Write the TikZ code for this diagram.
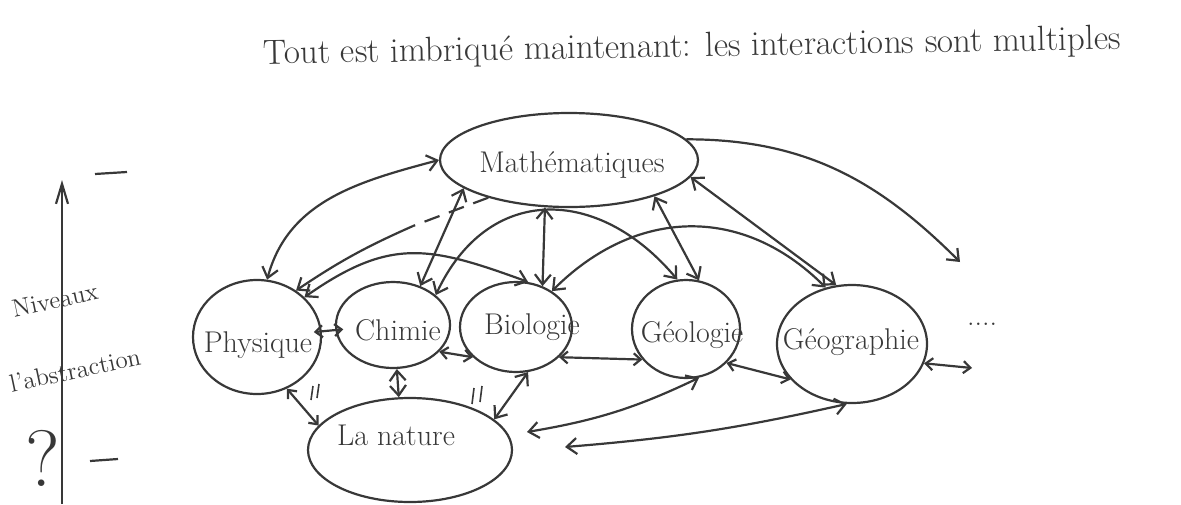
\documentclass[tikz,border=0pt]{standalone}
\usepackage{tikz}
\usetikzlibrary{shapes.geometric, arrows.meta}
\definecolor{pencil}{gray}{0.22}

\begin{document}
\begin{tikzpicture}[x=0.5pt, y=-0.5pt, line width=1.1pt, color=pencil,
    every node/.style={font=\fontsize{15}{18}\selectfont},
    field/.style={ellipse, draw, inner sep=0pt},
    link/.style={{Straight Barb[length=5pt,width=8pt]}-{Straight Barb[length=5pt,width=8pt]}},
    short/.style={{Straight Barb[length=3.5pt,width=6pt]}-{Straight Barb[length=3.5pt,width=6pt]}},
    oneway/.style={-{Straight Barb[length=5pt,width=8pt]}}]
    \useasboundingbox (0,0) rectangle (1181,504);

    \node[font=\fontsize{17.5}{20}\selectfont, rotate=1] (title) at (692,48) {Tout est imbriqué maintenant: les interactions sont multiples};

    \node[field, minimum width=129pt, minimum height=47pt] (M) at (569,160) {};
    \node[field, minimum width=64pt, minimum height=57pt] (P) at (257,337) {};
    \node[field, minimum width=57pt, minimum height=43pt] (Ch) at (393,325) {};
    \node[field, minimum width=56pt, minimum height=45pt] (Bi) at (516,327) {};
    \node[field, minimum width=54pt, minimum height=49pt] (Ge) at (686,329) {};
    \node[field, minimum width=75pt, minimum height=59pt] (Gg) at (852,344) {};
    \node[field, minimum width=102pt, minimum height=52pt] (N) at (410,450) {};

    \node (Mt) at (572,165) {Mathématiques};
    \node (Pt) at (258,345) {Physique};
    \node (Cht) at (398,330) {Chimie};
    \node (Bit) at (532,327) {Biologie};
    \node (Get) at (692,335) {Géologie};
    \node (Ggt) at (851,342) {Géographie};
    \node (etc) at (982,324) {....};
    \node (Nt) at (396,435) {La nature};

    % levels of abstraction
    \coordinate (a0) at (62,504);
    \coordinate (a1) at (62,180);
    \draw[-{Straight Barb[length=10pt,width=6pt]}] (a0) -- (a1);
    \draw (95,174) -- (127,172);
    \draw (90,461) -- (118,459);
    \node[rotate=12, font=\fontsize{12.5}{14}\selectfont] (niv) at (55,300) {Niveaux};
    \node[rotate=12, font=\fontsize{12.5}{14}\selectfont] (abs) at (75,370) {l'abstraction};
    \node[font=\fontsize{40}{40}\selectfont] (q) at (43,458) {?};

    % from Mathématiques
    \coordinate (d1) at (413,226);
    \coordinate (e1) at (960,262);
    \draw[link] (M.west) to[out=195, in=75] (P.80);
    \draw[dashed, dash pattern=on 8pt off 5pt] (M.205) -- (d1);
    \draw[oneway] (d1) to[bend right=5] (P.50);
    \draw[link] (M.195) -- (Ch.55);
    \draw[link] (M.243) -- (Bi.57);
    \draw[link] (M.337) -- (Ge.75);
    \draw[link] (M.352) -- (Gg.105);
    \draw[oneway] (M.10) to[out=0, in=135] (e1);

    % between the sciences
    \coordinate (e2) at (972,368);
    \draw[short, shorten <=-4pt, shorten >=-4pt] (P.5) -- (Ch.185);
    \draw[link] (P.40) to[out=35, in=160, looseness=1.2] (Bi.75);
    \draw[link] (Ch.35) to[out=65, in=130, looseness=1.3] (Ge.100);
    \draw[link] (Bi.45) to[out=45, in=135, looseness=1.1] (Gg.115);
    \draw[short] (Ch.-30) -- (Bi.215);
    \draw[short] (Bi.-35) -- (Ge.215);
    \draw[short] (Ge.-40) -- (Gg.-150);
    \draw[short] (Gg.-15) -- (e2);

    % towards la nature
    \coordinate (n1) at (527,432);
    \coordinate (n2) at (565,447);
    \draw[link] (Ch.-85) -- (N.102);
    \draw[short] (P.-60) -- (N.165);
    \draw[link] (Bi.-75) -- (N.20);
    \draw[link] (Ge.-75) to[bend left=8] (n1);
    \draw[link] (Gg.-95) to[bend left=4] (n2);
    \draw[line width=0.8pt] (313,386) -- (311,400) (319,384) -- (317,398);
    \draw[line width=0.8pt] (474,388) -- (472,404) (482,386) -- (480,402);
\end{tikzpicture}
\end{document}
